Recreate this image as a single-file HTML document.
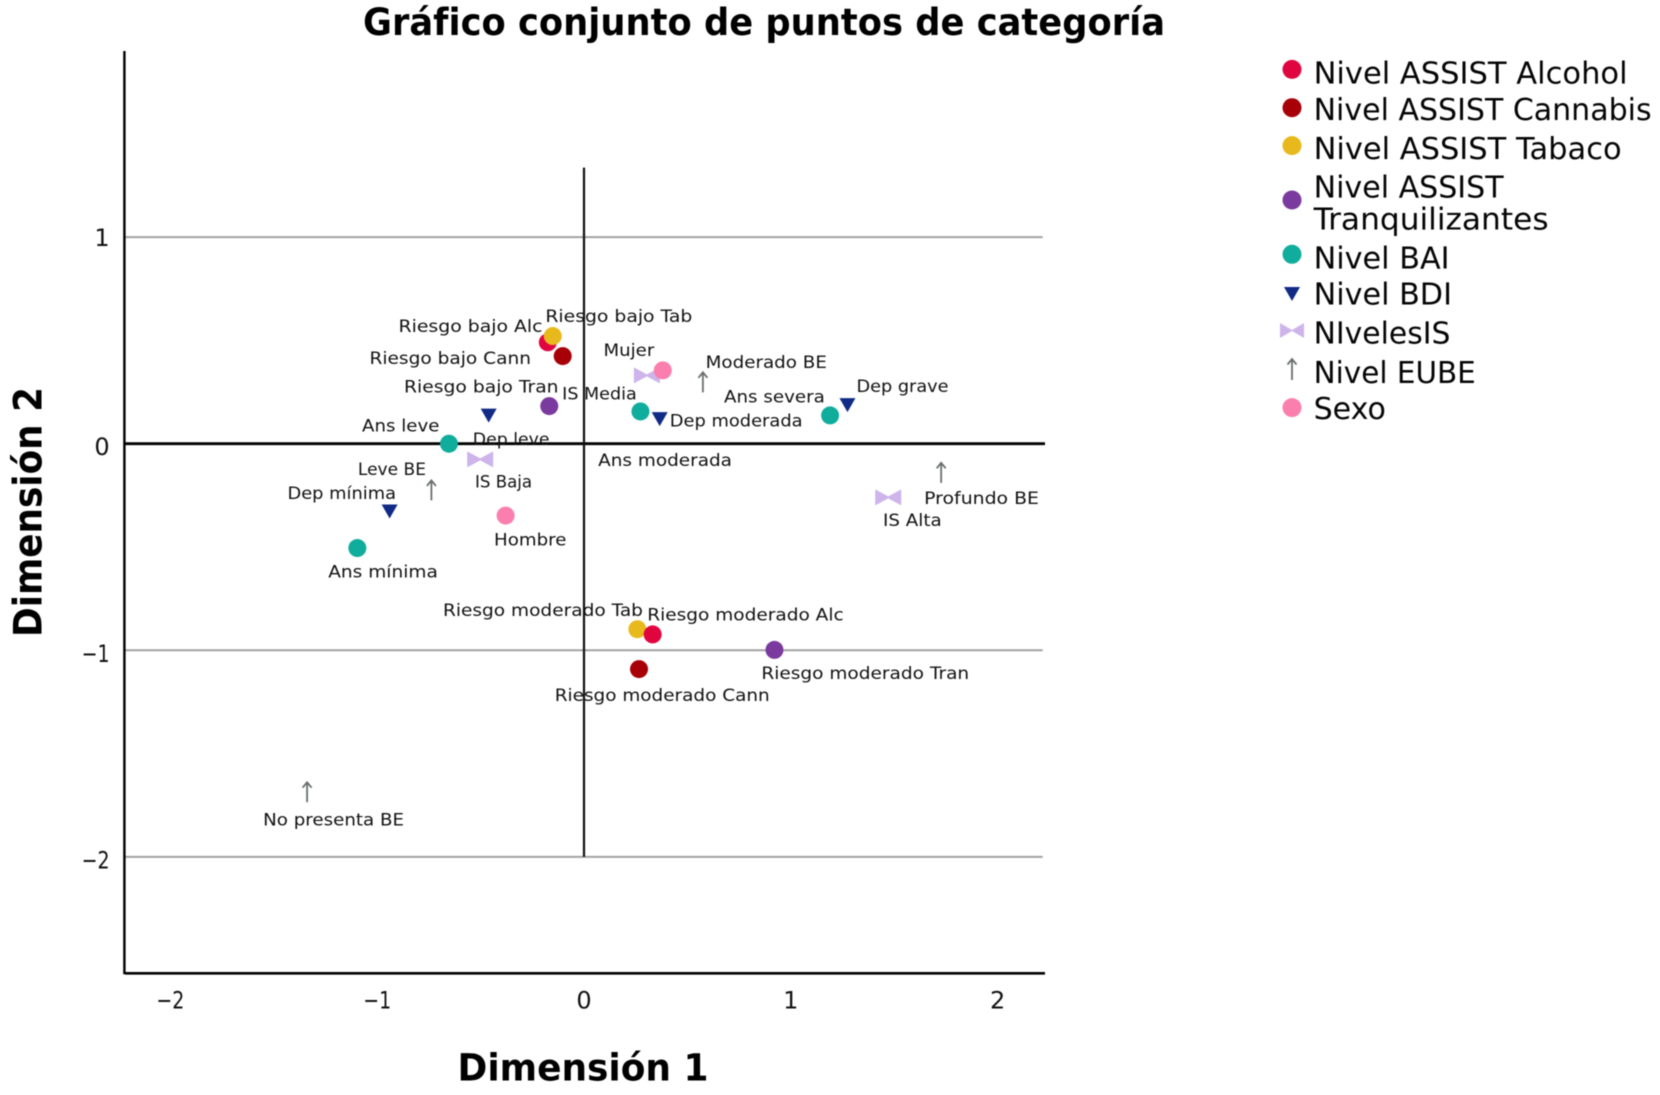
<!DOCTYPE html>
<html lang="es">
<head>
<meta charset="utf-8">
<title>Gráfico conjunto de puntos de categoría</title>
<style>
html,body{margin:0;padding:0;background:#fff;width:1660px;height:1095px;overflow:hidden}
svg{display:block;filter:blur(0.45px)}
text{font-family:"DejaVu Sans","Liberation Sans",sans-serif;fill:#111}
.pt{font-size:16.5px;fill:#111}
.tick{font-size:24px}
.ttl{font-size:37px;font-weight:bold;fill:#000}
.leg{font-size:30.5px;fill:#050505}
</style>
</head>
<body>
<svg id="chart" width="1660" height="1095" viewBox="0 0 1660 1095" xmlns="http://www.w3.org/2000/svg">
  <text class="ttl" x="363" y="35" textLength="802" lengthAdjust="spacingAndGlyphs">Gráfico conjunto de puntos de categoría</text>
  <text class="ttl" x="457.5" y="1080.5" textLength="251" lengthAdjust="spacingAndGlyphs">Dimensión 1</text>
  <text class="ttl" style="font-size:39px" transform="translate(41.3,637) rotate(-90)" textLength="250" lengthAdjust="spacingAndGlyphs">Dimensión 2</text>

  <g id="grid"></g>
  <g id="axes"></g>
  <g id="ticks"></g>
  <g id="labels"></g>
  <g id="marks"></g>

  <g>
    <g>
      <circle cx="1292" cy="69.4" r="9.5" fill="#e0053e"/>
      <text class="leg" x="1313.6" y="83.5" textLength="314" lengthAdjust="spacingAndGlyphs">Nivel ASSIST Alcohol</text>
    </g>
    <g>
      <circle cx="1292" cy="107.7" r="9.5" fill="#a80008"/>
      <text class="leg" x="1313.6" y="120" textLength="338" lengthAdjust="spacingAndGlyphs">Nivel ASSIST Cannabis</text>
    </g>
    <g>
      <circle cx="1292" cy="145.6" r="9.5" fill="#e8b91c"/>
      <text class="leg" x="1313.6" y="159" textLength="308" lengthAdjust="spacingAndGlyphs">Nivel ASSIST Tabaco</text>
    </g>
    <g>
      <circle cx="1292" cy="200" r="9.5" fill="#7a3a9e"/>
      <text class="leg" x="1313.6" y="197.5" textLength="190" lengthAdjust="spacingAndGlyphs">Nivel ASSIST</text>
      <text class="leg" x="1313.6" y="229.7" textLength="235" lengthAdjust="spacingAndGlyphs">Tranquilizantes</text>
    </g>
    <g>
      <circle cx="1292" cy="254.3" r="9.5" fill="#10ac9c"/>
      <text class="leg" x="1313.6" y="268.4" textLength="136" lengthAdjust="spacingAndGlyphs">Nivel BAI</text>
    </g>
    <g>
      <polygon points="1284,287 1300,287 1292,301" fill="#102a85"/>
      <text class="leg" x="1313.6" y="304.5" textLength="138.4" lengthAdjust="spacingAndGlyphs">Nivel BDI</text>
    </g>
    <g>
      <polygon points="1280,323 1292,330 1304,323 1304,338 1292,331 1280,338" fill="#cdb4ea"/>
      <text class="leg" x="1313.6" y="343.6" textLength="136.8" lengthAdjust="spacingAndGlyphs">NIvelesIS</text>
    </g>
    <g>
      <path d="M1292 380V359M1287.5 364.5L1292 359L1296.5 364.5" fill="none" stroke="#6a6f6c" stroke-width="1.8"/>
      <text class="leg" x="1313.6" y="383" textLength="162.2" lengthAdjust="spacingAndGlyphs">Nivel EUBE</text>
    </g>
    <g>
      <circle cx="1292" cy="407.6" r="9.5" fill="#fb7fae"/>
      <text class="leg" x="1313.6" y="419" textLength="72.3" lengthAdjust="spacingAndGlyphs">Sexo</text>
    </g>
  </g>
</svg>

<script>
/* ---- chart data ---- */
var xTickValues = [-2, -1, 0, 1, 2];
var yTickValues = [1, 0, -1, -2];
var xTickLabels = ['\u22122', '\u22121', '0', '1', '2'];
var yTickLabels = ['1', '0', '\u22121', '\u22122'];
var categoryLabels = [
  'Riesgo bajo Alc','Riesgo bajo Cann','Riesgo bajo Tab','Riesgo bajo Tran',
  'Riesgo moderado Tab','Riesgo moderado Alc','Riesgo moderado Cann','Riesgo moderado Tran',
  'Ans mínima','Ans leve','Ans moderada','Ans severa',
  'Dep mínima','Dep leve','Dep moderada','Dep grave',
  'IS Baja','IS Media','IS Alta',
  'No presenta BE','Leve BE','Moderado BE','Profundo BE',
  'Hombre','Mujer'
];
var categorySeries = [
  'alcohol','cannabis','tabaco','tranquilizantes',
  'tabaco','alcohol','cannabis','tranquilizantes',
  'bai','bai','bai','bai',
  'bdi','bdi','bdi','bdi',
  'is','is','is',
  'eube','eube','eube','eube',
  'sexo','sexo'
];
var dimension1 = [
  -0.175,-0.103,-0.151,-0.168,
  0.258,0.332,0.266,0.921,
  -1.096,-0.653,0.273,1.19,
  -0.94,-0.461,0.366,1.274,
  -0.502,0.304,1.471,
  -1.339,-0.738,0.575,1.727,
  -0.379,0.381
];
var dimension2 = [
  0.491,0.424,0.521,0.182,
  -0.898,-0.923,-1.091,-0.998,
  -0.505,0,0.156,0.137,
  -0.328,0.136,0.119,0.187,
  -0.076,0.331,-0.26,
  -1.687,-0.226,0.297,-0.141,
  -0.348,0.355
];

/* ---- layout (not data) ---- */
var X0 = 584, Y0 = 443.7, UNIT_X = 206.8, UNIT_Y = 206.6;
var AXIS_LEFT = 125, AXIS_RIGHT = 1045, AXIS_TOP = 51, AXIS_BOTTOM = 973.3, GRID_RIGHT = 1042.7, VLINE_TOP = 167.6;
var LABEL_SHIFT_Y = -0.8;
var seriesColor = {alcohol:'#e0053e',cannabis:'#a80008',tabaco:'#e8b91c',tranquilizantes:'#7a3a9e',bai:'#10ac9c',bdi:'#102a85',is:'#cdb4ea',eube:'#6a6f6c',sexo:'#fb7fae'};
/* label offset from its mark: dx, dy, rendered width */
var labelPlacement = [
  [-149.3,-9.6,144],[-193.2,8.8,161.5],[-7.4,-13.3,147],[-145.2,-12.7,154.5],
  [-194.4,-12.3,200],[-5.4,-12.9,196.4],[-84.3,32.9,215],[-13.1,30.1,207.8],
  [-29.1,30.4,109.6],[-86.9,-11.2,77.4],[-42.3,55.1,133.8],[-106.1,-11.9,100.8],
  [-102.1,-11.6,108.5],[-15.9,30.4,76.8],[10.1,8.1,132.8],[9,-12.2,92.1],
  [-5.2,28.8,57.1],[-84.7,25.2,74.6],[-5.2,29.4,58.7],
  [-44,34,141],[-73.5,-14.8,68.1],[2.7,-13.3,121.3],[-17,32.2,114.8],
  [-11.6,30.9,72.4],[-59.3,-13.4,50.8]
];

function xScale(v){ return X0 + v * UNIT_X; }
function yScale(v){ return Y0 - v * UNIT_Y; }

var NS = 'http://www.w3.org/2000/svg';
function make(parent, tag, props){
  var node = document.createElementNS(NS, tag);
  for (var k in props) node.setAttribute(k, props[k]);
  document.getElementById(parent).appendChild(node);
  return node;
}
function slug(s){
  return s.normalize('NFD').replace(/[\u0300-\u036f]/g,'').toLowerCase().replace(/[^a-z0-9]+/g,'-');
}

/* gridlines */
yTickValues.forEach(function(v){
  var el = make('grid','line',{x1:AXIS_LEFT,x2:v===0?AXIS_RIGHT:GRID_RIGHT,y1:yScale(v),y2:yScale(v),stroke:v===0?'#000':'#a2a2a2','stroke-width':v===0?2.8:2});
  
  
});

/* axes */
var vZero = make('axes','line',{x1:xScale(0),x2:xScale(0),y1:VLINE_TOP,y2:yScale(-2),stroke:'#111','stroke-width':2.2});


var yAxis = make('axes','line',{x1:AXIS_LEFT-0.6,x2:AXIS_LEFT-0.6,y1:AXIS_TOP,y2:AXIS_BOTTOM+1,stroke:'#000','stroke-width':2.4});


var xAxis = make('axes','line',{x1:AXIS_LEFT,x2:AXIS_RIGHT,y1:AXIS_BOTTOM,y2:AXIS_BOTTOM,stroke:'#000','stroke-width':2.6});



/* tick labels */
xTickValues.forEach(function(v,i){
  var t = make('ticks','text',{class:'tick',x:xScale(v),y:1008.7,'text-anchor':'middle'});
  t.textContent = xTickLabels[i];
  
  
  if (v < 0) { t.setAttribute('textLength', 28); t.setAttribute('lengthAdjust', 'spacingAndGlyphs'); }
});
yTickValues.forEach(function(v,i){
  var t = make('ticks','text',{class:'tick',x:109.6,y:yScale(v)+(v>0?9:11.5),'text-anchor':'end'});
  t.textContent = yTickLabels[i];
  
  
  if (v < 0) { t.setAttribute('textLength', 28); t.setAttribute('lengthAdjust', 'spacingAndGlyphs'); }
});

/* marks and labels */
categoryLabels.forEach(function(name,i){
  var px = xScale(dimension1[i]), py = yScale(dimension2[i]);
  var s = categorySeries[i], c = seriesColor[s], mark;
  if (s === 'bdi') {
    mark = make('marks','polygon',{points:(px-8)+','+(py-7)+' '+(px+8)+','+(py-7)+' '+px+','+(py+7),fill:c});
  } else if (s === 'is') {
    mark = make('marks','polygon',{points:(px-13)+','+(py-8)+' '+px+','+(py-1)+' '+(px+13)+','+(py-8)+' '+(px+13)+','+(py+8)+' '+px+','+(py+1)+' '+(px-13)+','+(py+8),fill:c});
  } else if (s === 'eube') {
    mark = make('marks','path',{d:'M'+px+' '+(py+10)+'V'+(py-10)+'M'+(px-4.5)+' '+(py-4.5)+'L'+px+' '+(py-10)+'L'+(px+4.5)+' '+(py-4.5),fill:'none',stroke:c,'stroke-width':1.8});
  } else {
    mark = make('marks','circle',{cx:px,cy:py,r:9,fill:c});
  }
  
  

  var p = labelPlacement[i];
  var t = make('labels','text',{class:'pt',x:px+p[0],y:py+p[1]+LABEL_SHIFT_Y,textLength:p[2],lengthAdjust:'spacingAndGlyphs'});
  t.textContent = name;
  
  
});
</script>
</body>
</html>
